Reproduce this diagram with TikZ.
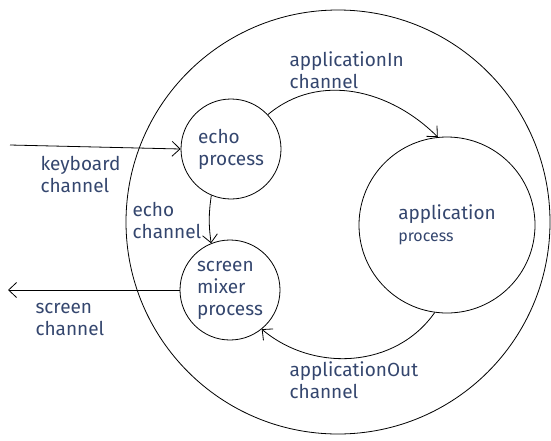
\documentclass[tikz,border=0pt]{standalone}
\usepackage{fontspec}
\setmainfont{Fira Sans}
\usetikzlibrary{arrows.meta}
\definecolor{ink}{HTML}{34466E}
\begin{document}
\begin{tikzpicture}[x=1pt,y=-1pt,
    proc/.style={draw, circle, line width=0.8pt, inner sep=0pt},
    lbl/.style={text=ink, align=left, font=\fontsize{19}{22}\selectfont},
    flow/.style={line width=0.8pt, -{Straight Barb[length=8pt,width=15pt]}}]
  \useasboundingbox (0,0) rectangle (551,440);
  % processes
  \node[proc, minimum size=424pt] (sys) at (338,222) {};
  \node[proc, lbl, minimum size=100pt] (echo) at (231,149) {echo\\process};
  \node[proc, lbl, minimum size=100pt] (mixer) at (230,290) {screen\\mixer\\process};
  \node[proc, lbl, minimum size=176pt] (app) at (447,225)
      {application\\{\fontsize{16}{18}\selectfont process}};
  % free ends
  \coordinate (kbin) at (10,145);
  \coordinate (scrout) at (8,290);
  % channels
  \draw[flow] (kbin) -- (echo.180);
  \draw[flow] (echo.247) to[bend right=8] (mixer.112);
  \draw[flow] (mixer.180) -- (scrout);
  \draw[flow] (echo.43) to[out=40,in=135] (app.96);
  \draw[flow] (app.262) to[out=235,in=-40] (mixer.-51);
  % labels (base = last line)
  \node[lbl, anchor=base west] (kblbl) at (37,192) {keyboard\\channel};
  \node[lbl, anchor=base west] (echolbl) at (129,238) {echo\\channel};
  \node[lbl, anchor=base west] (scrlbl) at (32,335) {screen\\channel};
  \node[lbl, anchor=base west] (inlbl) at (286,88) {applicationIn\\channel};
  \node[lbl, anchor=base west] (outlbl) at (286,398) {applicationOut\\channel};
\end{tikzpicture}
\end{document}
